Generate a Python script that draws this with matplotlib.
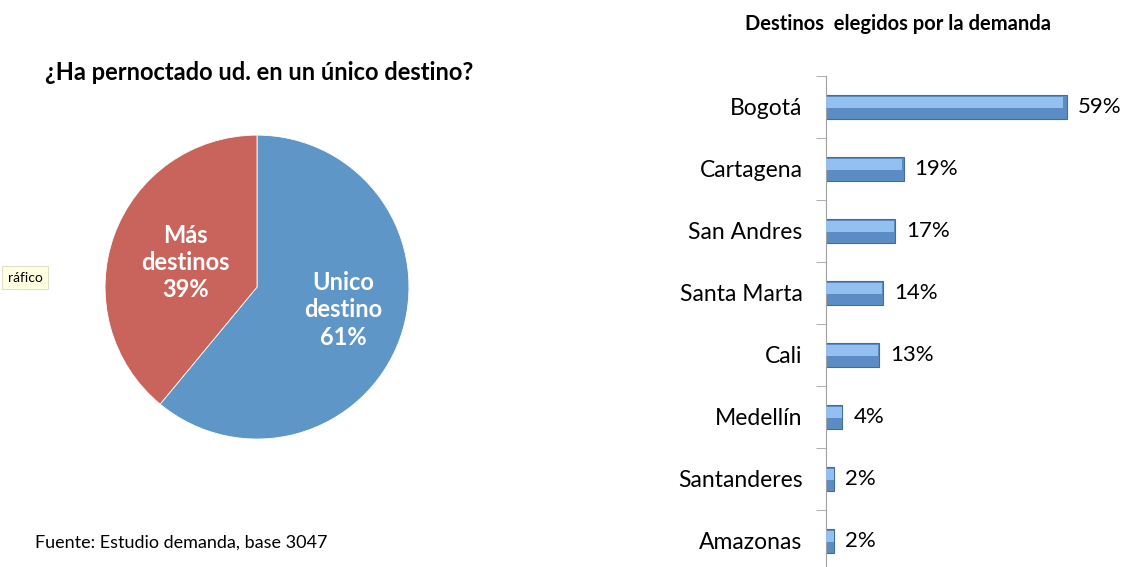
import matplotlib
matplotlib.use("Agg")
import matplotlib.pyplot as plt
import numpy as np

plt.rcParams["font.family"] = ["Lato", "DejaVu Sans"]

# pie data
pie_labels = ["Unico\ndestino", "Más\ndestinos"]
pie_values = [61, 39]

# bar data (top to bottom)
destinos = ["Bogotá", "Cartagena", "San Andres", "Santa Marta", "Cali",
            "Medellín", "Santanderes", "Amazonas"]
pct = [59, 19, 17, 14, 13, 4, 2, 2]

fig = plt.figure(figsize=(11.24, 5.67), dpi=100)

# ---- pie ----
ax1 = fig.add_axes([0.0934, 0.2257, 0.2705, 0.536])
ax1.pie(pie_values, colors=["#5E96C7", "#C8645B"], startangle=90, counterclock=False,
        radius=1.0, wedgeprops=dict(edgecolor="white", linewidth=0.6))
ax1.set_xlim(-1, 1)
ax1.set_ylim(-1, 1)
ax1.set_aspect("equal")
ax1.axis("off")
pos = [(0.57, -0.15), (-0.47, 0.16)]
for (x, y), lab, v in zip(pos, pie_labels, pie_values):
    ax1.text(x, y, f"{lab}\n{v}%", color="white", fontsize=17, fontweight="bold",
             ha="center", va="center", linespacing=1.22)

fig.text(0.040, 0.873, "¿Ha pernoctado ud. en un único destino?", fontsize=17,
         fontweight="bold", ha="left", va="center")
fig.text(0.031, 0.043, "Fuente: Estudio demanda, base 3047", fontsize=13,
         ha="left", va="center")
fig.text(0.007, 0.510, "ráfico", fontsize=10, ha="left", va="center",
         bbox=dict(boxstyle="square,pad=0.4", facecolor="#FFFFE1", edgecolor="#D8D8C0",
                   linewidth=0.6))

# ---- bars ----
ax2 = fig.add_axes([0.7349, -0.0088, 0.2651, 0.8748])
y = np.arange(len(destinos))
ax2.barh(y, pct, height=0.40, color="#5B8CC3", edgecolor="#3F6E9E", linewidth=0.8,
         zorder=2)
ax2.barh(y - 0.07, [p * 0.985 for p in pct], height=0.17, color="#93C0F0",
         edgecolor="none", zorder=3)
for yi, p in zip(y, pct):
    ax2.text(p + 2.7, yi, f"{p}%", fontsize=16, ha="left", va="center")
ax2.set_yticks(y)
ax2.set_yticklabels(destinos, fontsize=16.5)
ax2.set_yticks(np.arange(len(destinos) + 1) - 0.5, minor=True)
ax2.tick_params(axis="y", which="major", length=0, pad=17)
ax2.tick_params(axis="y", which="minor", length=7, color="#A0A0A0", direction="out")
ax2.set_ylim(len(destinos) - 0.5, -0.5)
ax2.set_xlim(0, 73)
ax2.set_xticks([])
for s in ["top", "right", "bottom"]:
    ax2.spines[s].set_visible(False)
ax2.spines["left"].set_color("#A0A0A0")

fig.text(0.799, 0.957, "Destinos  elegidos por la demanda", fontsize=14.5,
         fontweight="bold", ha="center", va="center")

fig.savefig("out.png", dpi=100)
